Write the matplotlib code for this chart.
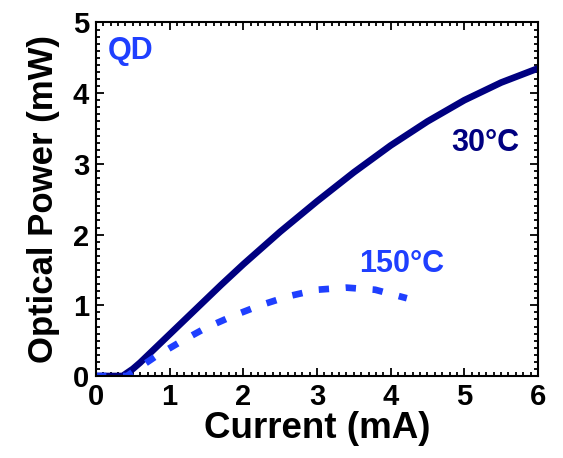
import matplotlib
matplotlib.use("Agg")
import matplotlib.pyplot as plt
from matplotlib.ticker import MultipleLocator

# light-current curves
current_30 = [0, 0.36, 0.5, 0.6, 0.7, 0.85, 1.0, 1.2, 1.4, 1.7, 2.0, 2.5, 3.0,
              3.5, 4.0, 4.5, 5.0, 5.5, 6.0]
power_30 = [0, 0, 0.1, 0.19, 0.29, 0.44, 0.59, 0.79, 0.99, 1.29, 1.58, 2.04,
            2.47, 2.88, 3.26, 3.60, 3.90, 4.15, 4.35]

current_150 = [0, 0.42, 0.8, 1.14, 1.49, 1.86, 2.23, 2.62, 3.0, 3.4, 3.79, 4.22]
power_150 = [0, 0, 0.27, 0.48, 0.68, 0.85, 1.0, 1.13, 1.22, 1.25, 1.22, 1.10]

navy = "#000080"
blue = "#1f3fff"

plt.rcParams['font.family'] = ['Liberation Sans', 'DejaVu Sans']
plt.rcParams['font.weight'] = 'bold'

fig = plt.figure(figsize=(5.63, 4.58), dpi=100)
ax = fig.add_axes([0.1705, 0.179, 0.785, 0.772])

ax.plot(current_30, power_30, color=navy, lw=4.8, solid_capstyle='butt',
        solid_joinstyle='round')
ax.plot(current_150, power_150, color=blue, lw=4.8, dashes=(1.55, 2.5),
        dash_capstyle='butt')

ax.set_xlim(0, 6)
ax.set_ylim(0, 5)
ax.xaxis.set_major_locator(MultipleLocator(1))
ax.yaxis.set_major_locator(MultipleLocator(1))
ax.xaxis.set_minor_locator(MultipleLocator(0.1))
ax.yaxis.set_minor_locator(MultipleLocator(0.1))
ax.tick_params(which='both', direction='in', top=True, right=True, width=1.3)
ax.tick_params(which='major', length=6, labelsize=21, pad=5)
ax.tick_params(which='minor', length=3)
for lab in ax.get_xticklabels() + ax.get_yticklabels():
    lab.set_fontweight('bold')
for sp in ax.spines.values():
    sp.set_linewidth(1.5)

ax.set_xlabel("Current (mA)", fontsize=26.5, fontweight='bold', labelpad=0)
ax.set_ylabel("Optical Power (mW)", fontsize=25, fontweight='bold', labelpad=9)

ax.text(0.16, 4.6, "QD", color=blue, fontsize=22, fontweight='bold', va='center')
ax.text(5.75, 3.3, "30°C", color=navy, fontsize=22, fontweight='bold',
        va='center', ha='right')
ax.text(4.73, 1.58, "150°C", color=blue, fontsize=22, fontweight='bold',
        va='center', ha='right')

fig.savefig("out.png", dpi=100)
